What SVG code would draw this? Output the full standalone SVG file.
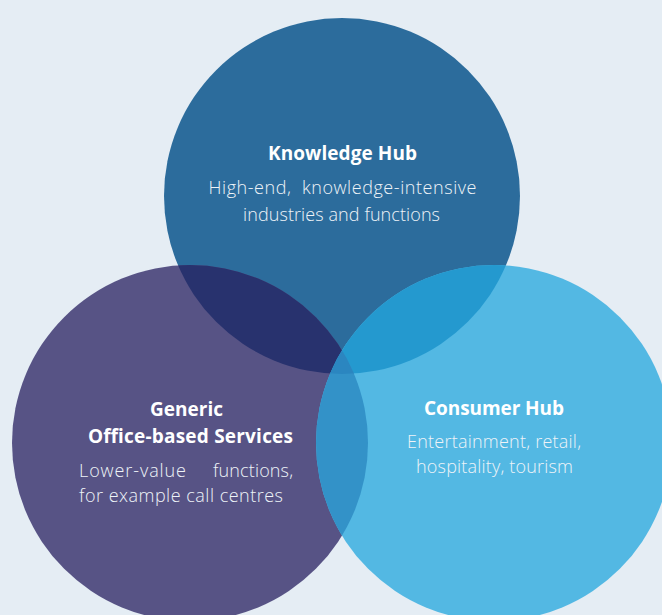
<svg xmlns="http://www.w3.org/2000/svg" width="662" height="615" viewBox="0 0 662 615">
<style>
.title{font-family:"Open Sans","Noto Sans",sans-serif;font-weight:700;font-size:19px;fill:#ffffff}
.body{font-family:"Open Sans","Noto Sans",sans-serif;font-weight:300;font-size:18px;fill:#eef3f8}
</style>
<defs>
<clipPath id="cT"><circle cx="342" cy="196" r="178"/></clipPath>
<clipPath id="cL"><circle cx="190" cy="443" r="178"/></clipPath>
</defs>
<rect width="662" height="615" fill="#e5edf4"/>
<g id="knowledge-hub">
<circle cx="342" cy="196" r="178" fill="#2c6c9c"/>
</g>
<g id="office-services">
<circle cx="190" cy="443" r="178" fill="#575385"/>
</g>
<g id="consumer-hub">
<circle cx="494" cy="443" r="178" fill="#53b8e3"/>
</g>
<g id="overlaps">
<circle cx="190" cy="443" r="178" fill="#28326e" clip-path="url(#cT)"/>
<circle cx="494" cy="443" r="178" fill="#2499cf" clip-path="url(#cT)"/>
<circle cx="494" cy="443" r="178" fill="#3392c8" clip-path="url(#cL)"/>
<g clip-path="url(#cT)"><circle cx="494" cy="443" r="178" fill="#2b86c0" clip-path="url(#cL)"/></g>
</g>
<g id="labels">
<text class="title" x="268" y="159.5" textLength="149">Knowledge Hub</text>
<text class="body" x="208.5" y="193.5" textLength="268" xml:space="preserve">High-end,  knowledge-intensive</text>
<text class="body" x="243" y="220.5" textLength="197">industries and functions</text>
<text class="title" x="150" y="416" textLength="73">Generic</text>
<text class="title" x="88" y="442.5" textLength="205">Office-based Services</text>
<text class="body" x="79" y="476.5" textLength="107">Lower-value</text>
<text class="body" x="213" y="476.5" textLength="80">functions,</text>
<text class="body" x="79" y="501.5" textLength="204">for example call centres</text>
<text class="title" x="424" y="415" textLength="140">Consumer Hub</text>
<text class="body" x="407" y="448" textLength="174">Entertainment, retail,</text>
<text class="body" x="416" y="473" textLength="157">hospitality, tourism</text>
</g>
</svg>
